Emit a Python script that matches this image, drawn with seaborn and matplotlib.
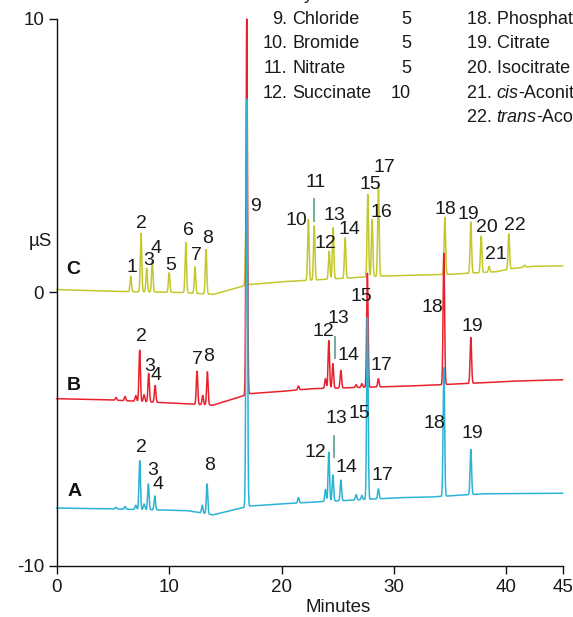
import numpy as np
import pandas as pd
import matplotlib
matplotlib.use("Agg")
import matplotlib.pyplot as plt
import seaborn as sns
from matplotlib import font_manager

# ---------------- chromatogram data (time in min, conductivity in µS) ----------------
trace_names = ["C", "B", "A"]
trace_colors = {"C": "#c3c82c", "B": "#e8212d", "A": "#2bb3d5"}

# baseline anchor points
base_C_t = [-0.3, 4.4, 6.5, 11.0, 13.9, 16.75, 17.1, 19.9, 22.2, 28.8, 34.7, 39.1, 40.6, 42.4, 45.0]
base_C_v = [0.11, 0.05, 0.03, 0.0, -0.07, 0.25, 0.29, 0.39, 0.44, 0.60, 0.66, 0.76, 0.88, 0.96, 0.97]
base_B_t = [-0.3, 4.4, 11.5, 13.9, 16.75, 17.1, 19.9, 22.6, 30.6, 33.2, 37.9, 40.6, 45.0]
base_B_v = [-3.88, -3.92, -4.07, -4.12, -3.76, -3.70, -3.62, -3.52, -3.43, -3.39, -3.30, -3.24, -3.19]
base_A_t = [-0.3, 4.4, 11.5, 13.9, 16.75, 17.1, 19.9, 22.6, 30.6, 33.2, 37.9, 45.0]
base_A_v = [-7.88, -7.91, -7.97, -8.13, -7.85, -7.81, -7.73, -7.67, -7.50, -7.48, -7.36, -7.34]

# peak retention times and apex values
peaks_C_t = [6.58, 7.50, 8.00, 8.50, 10.00, 11.48, 12.30, 13.28, 16.85, 22.38, 22.90, 24.23,
             24.58, 25.65, 27.67, 28.05, 28.61, 34.52, 36.83, 37.75, 38.46, 40.21, 41.60]
peaks_C_v = [0.60, 2.16, 0.88, 1.16, 0.72, 1.83, 0.94, 1.57, 2.90, 2.67, 2.44, 1.51,
             2.37, 2.00, 3.58, 2.67, 3.97, 2.75, 2.58, 2.06, 0.96, 2.14, 1.00]
peaks_B_t = [5.28, 6.08, 7.03, 7.38, 7.77, 8.18, 8.75, 12.48, 12.99, 13.40, 16.90, 21.50,
             23.90, 24.20, 24.56, 25.27, 26.63, 27.14, 27.63, 28.61, 34.43, 36.83]
peaks_B_v = [-3.84, -3.80, -3.77, -2.11, -3.74, -2.96, -3.40, -2.88, -3.76, -2.90, 10.0, -3.42,
             -3.15, -1.76, -2.60, -2.85, -3.37, -3.33, 0.70, -3.15, 1.43, -1.65]
peaks_A_t = [5.28, 6.08, 7.03, 7.38, 7.77, 8.15, 8.72, 12.95, 13.37, 16.90, 21.50,
             23.90, 24.20, 24.56, 25.27, 26.63, 27.14, 27.63, 28.61, 34.43, 36.83]
peaks_A_v = [-7.85, -7.82, -7.78, -6.15, -7.73, -7.00, -7.44, -7.78, -7.00, 7.07, -7.50,
             -7.20, -5.84, -6.67, -6.86, -7.39, -7.42, -0.92, -7.18, -2.75, -5.74]

# peak number labels (text, time, µS)
labels_C = [("1", 6.73, 0.90), ("2", 7.56, 2.53), ("3", 8.15, 1.18), ("4", 8.83, 1.61),
            ("5", 10.17, 0.98), ("6", 11.68, 2.25), ("7", 12.42, 1.35), ("8", 13.40, 1.98),
            ("9", 17.64, 3.14), ("10", 21.35, 2.65), ("11", 23.04, 4.02), ("12", 23.87, 1.79),
            ("13", 24.70, 2.80), ("14", 26.03, 2.30), ("15", 27.87, 3.96), ("16", 28.83, 2.92),
            ("17", 29.12, 4.57), ("18", 34.55, 3.04), ("19", 36.62, 2.86), ("20", 38.26, 2.38),
            ("21", 39.06, 1.39), ("22", 40.77, 2.44)]
labels_B = [("2", 7.56, -1.62), ("3", 8.24, -2.70), ("4", 8.81, -3.03), ("7", 12.51, -2.45),
            ("8", 13.49, -2.35), ("12", 23.72, -1.44), ("13", 25.05, -0.95), ("14", 25.94, -2.32),
            ("15", 27.07, -0.16), ("17", 28.85, -2.68), ("18", 33.45, -0.56), ("19", 36.92, -1.26)]
labels_A = [("2", 7.56, -5.65), ("3", 8.50, -6.50), ("4", 9.04, -7.03), ("8", 13.58, -6.32),
            ("12", 22.98, -5.86), ("13", 24.91, -4.62), ("14", 25.74, -6.39), ("15", 26.90, -4.43),
            ("17", 29.00, -6.69), ("18", 33.57, -4.80), ("19", 36.97, -5.16)]
trace_tags = [("C", 1.48, 0.85), ("B", 1.54, -3.40), ("A", 1.63, -7.28)]
leader_lines = [(22.89, 3.44, 2.58), (24.76, -1.59, -2.42), (24.67, -5.20, -6.05)]

# peak identification table
table_left = [("8.", "Pyruvate", "10"), ("9.", "Chloride", "5"), ("10.", "Bromide", "5"),
              ("11.", "Nitrate", "5"), ("12.", "Succinate", "10")]
table_right = [[("17. Oxalate", "normal")],
               [("18. Phosphate", "normal")],
               [("19. Citrate", "normal")],
               [("20. Isocitrate", "normal")],
               [("21. ", "normal"), ("cis", "italic"), ("-Aconitate", "normal")],
               [("22. ", "normal"), ("trans", "italic"), ("-Aconitate", "normal")]]

# ---------------- build traces ----------------
T = np.arange(-0.3, 45.0 + 1e-9, 0.005)
SIGMA = 0.065


def build_trace(bt, bv, pt, pv):
    base = np.interp(T, bt, bv)
    y = base.copy()
    for t0, apex in zip(pt, pv):
        h = apex - np.interp(t0, bt, bv)
        y += h * np.exp(-0.5 * ((T - t0) / SIGMA) ** 2)
    return y


frames = []
for name, bt, bv, pt, pv in [("C", base_C_t, base_C_v, peaks_C_t, peaks_C_v),
                             ("B", base_B_t, base_B_v, peaks_B_t, peaks_B_v),
                             ("A", base_A_t, base_A_v, peaks_A_t, peaks_A_v)]:
    frames.append(pd.DataFrame({"time": T, "signal": build_trace(bt, bv, pt, pv), "trace": name}))
df = pd.concat(frames, ignore_index=True)

# ---------------- style ----------------
sns.set_theme(style="ticks")
names = {f.name for f in font_manager.fontManager.ttflist}
FONT = "Liberation Sans Narrow" if "Liberation Sans Narrow" in names else "Liberation Sans"
plt.rcParams["font.family"] = [FONT, "DejaVu Sans"]
plt.rcParams["axes.unicode_minus"] = False
TXT = "#1a1a1a"

W, H = 573, 617
fig = plt.figure(figsize=(W / 100, H / 100), dpi=100)
ax = fig.add_axes([56.7 / W, 1 - 566 / H, 506 / W, 547 / H])

sns.lineplot(data=df, x="time", y="signal", hue="trace", hue_order=trace_names,
             palette=trace_colors, estimator=None, sort=False, linewidth=1.1,
             legend=False, ax=ax)
for ln in ax.lines:
    ln.set_clip_on(False)

ax.set_xlim(0, 45)
ax.set_ylim(-10, 10)
ax.set_xticks([0, 10, 20, 30, 40, 45])
ax.set_yticks([-10, 0, 10])
ax.set_yticklabels(["-10", "0", "10"])
sns.despine(ax=ax)
for s in ("left", "bottom"):
    ax.spines[s].set_linewidth(1.0)
    ax.spines[s].set_color("#111111")
ax.tick_params(direction="out", length=6, width=1.0, labelsize=13.5, pad=3,
               colors="#111111", labelcolor=TXT)

ax.set_xlabel("Minutes", fontsize=13.5, color=TXT)
ax.xaxis.set_label_coords((338 - 56.7) / 506, -(607 - 566) / 547)
ax.xaxis.label.set_va("center")
ax.set_ylabel("µS", fontsize=13.5, color=TXT, rotation=0)
ax.yaxis.set_label_coords((40 - 56.7) / 506, (566 - 242) / 547)
ax.yaxis.label.set_va("center")
ax.yaxis.label.set_ha("center")

# peak numbers
for group in (labels_C, labels_B, labels_A):
    for txt, x, y in group:
        ax.text(x, y, txt, ha="center", va="center", fontsize=14, color=TXT, clip_on=False)
for tag, x, y in trace_tags:
    ax.text(x, y, tag, ha="center", va="center", fontsize=14, fontweight="bold", color="#111111")
for x, y1, y2 in leader_lines:
    ax.plot([x, x], [y1, y2], color="#6aa597", lw=1.3, solid_capstyle="butt")

# table of analytes
TFS = 13
row_y = [-5.8, 19.0, 43.6, 68.4, 93.3]
for (num, name, conc), py in zip(table_left, row_y):
    fy = 1 - py / H
    fig.text(287.5 / W, fy, num, ha="right", va="center", fontsize=TFS, color=TXT)
    fig.text(292.5 / W, fy, name, ha="left", va="center", fontsize=TFS, color=TXT)
    fig.text(411 / W, fy, conc, ha="right", va="center", fontsize=TFS, color=TXT)

renderer = fig.canvas.get_renderer()
for parts, py in zip(table_right, row_y + [118.0]):
    x = 466.7 / W
    fy = 1 - py / H
    for s, style in parts:
        t = fig.text(x, fy, s, ha="left", va="center", fontsize=TFS, color=TXT, style=style)
        x += t.get_window_extent(renderer).width / fig.bbox.width

fig.savefig("out.png", dpi=100)
